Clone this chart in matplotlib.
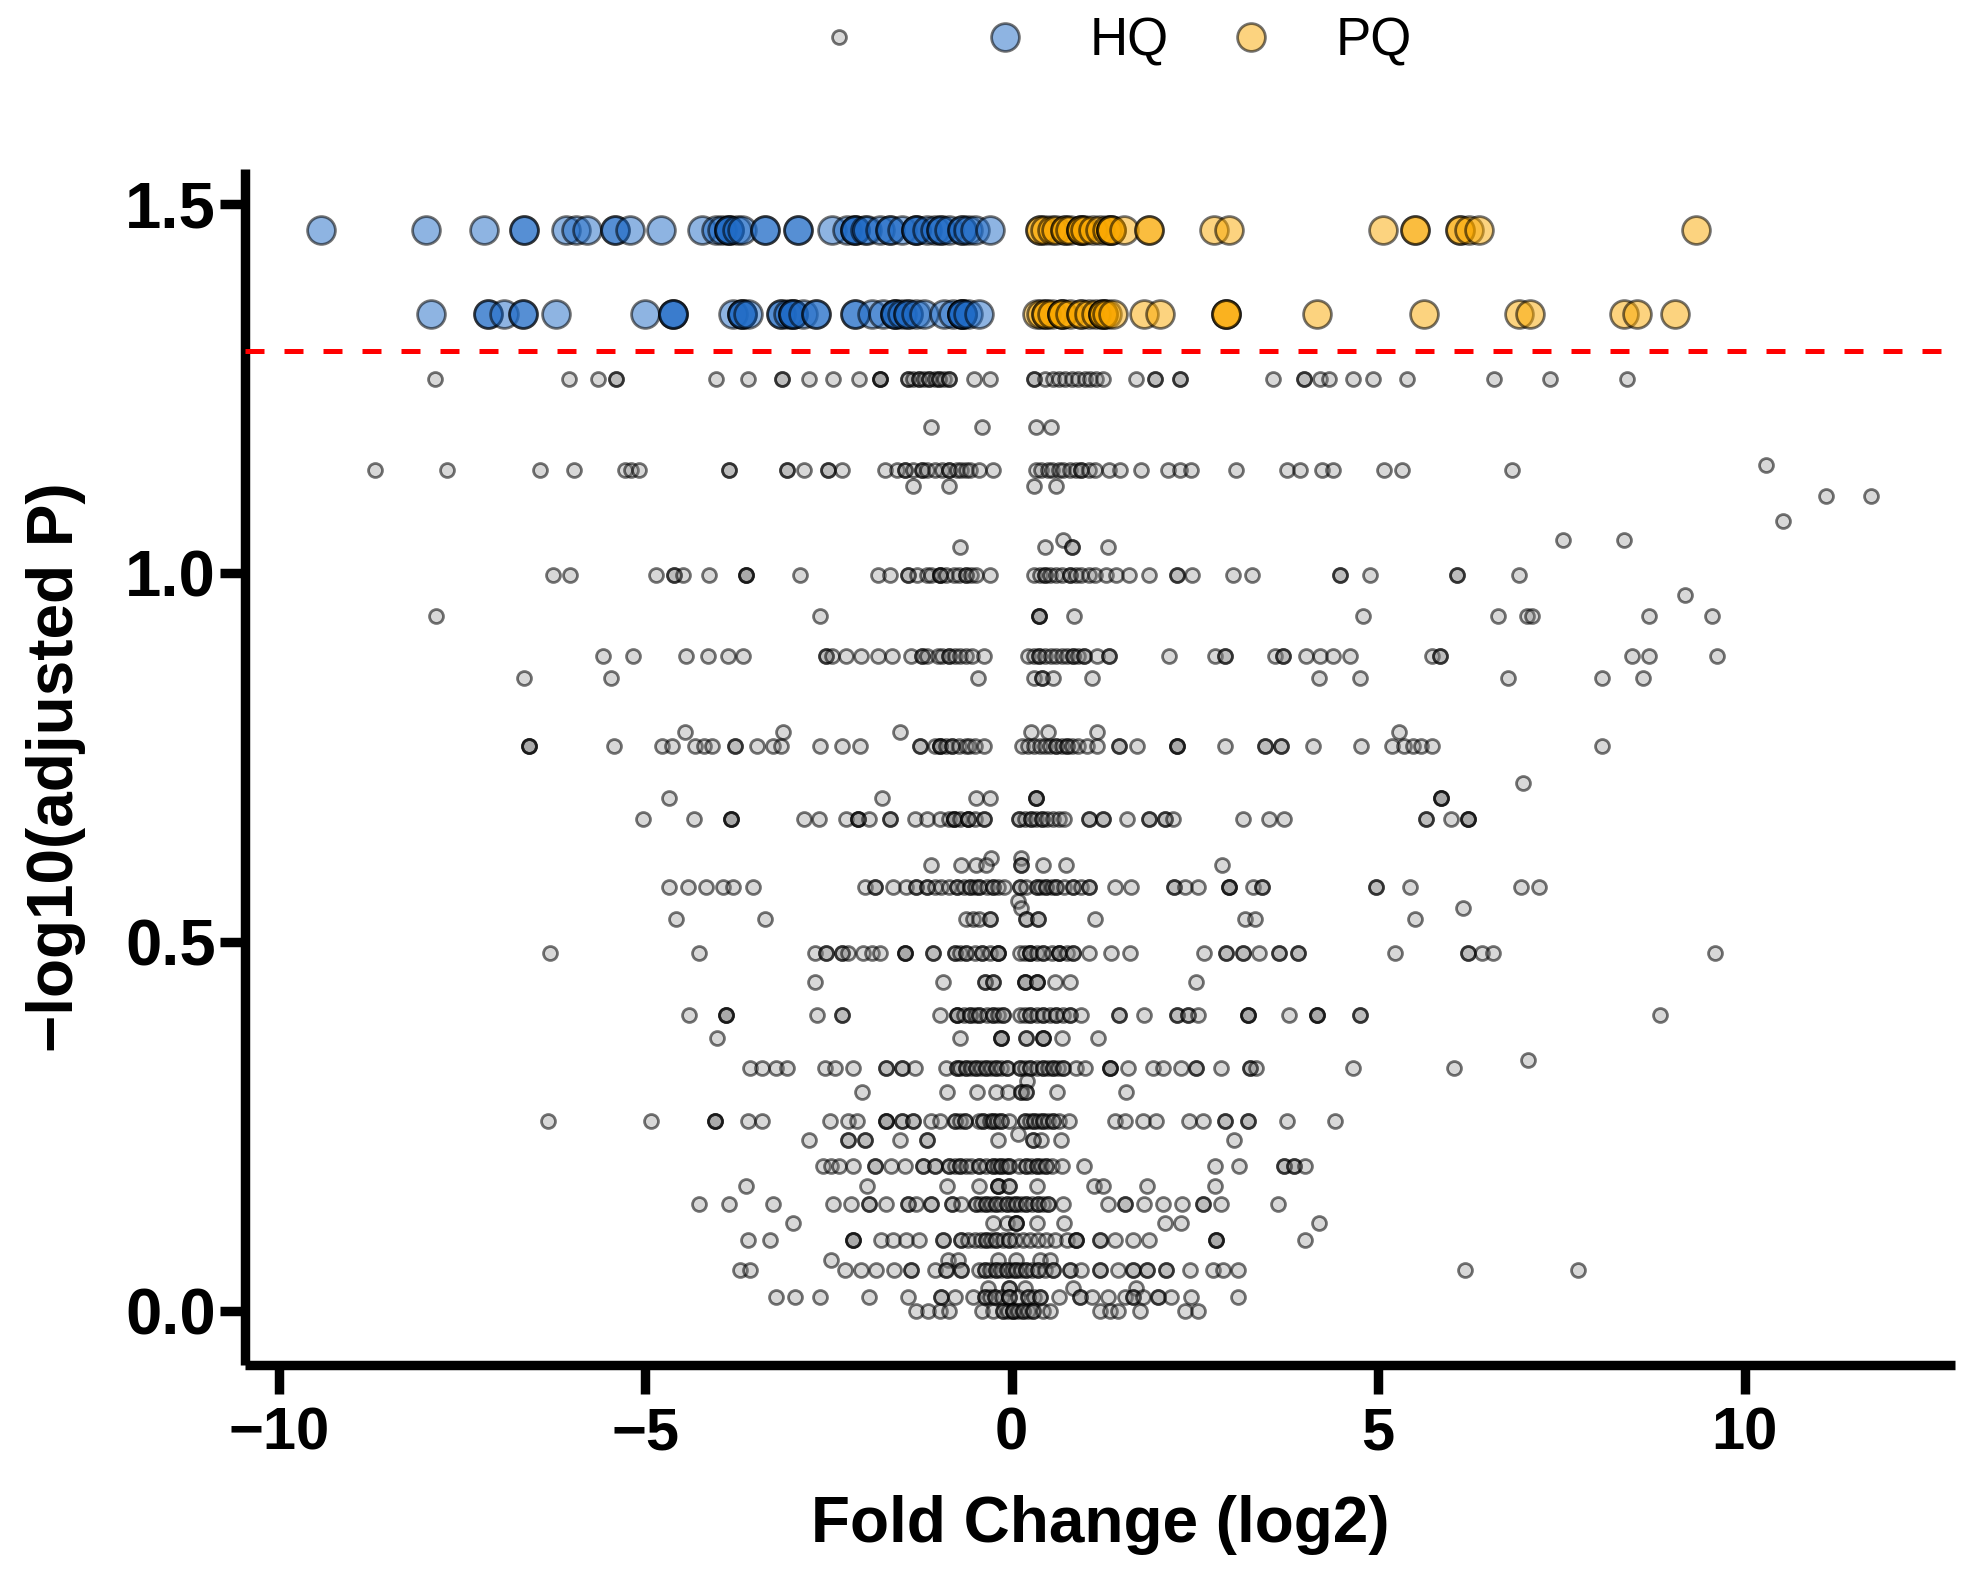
import matplotlib
matplotlib.use("Agg")
import matplotlib.pyplot as plt

plt.rcParams["font.family"] = ["Liberation Sans", "DejaVu Sans"]

# Significant genes: log2 fold change at each adjusted-P level
hq_level_1 = 1.465
hq_x_1 = [-9.42, -7.99, -7.2, -6.65, -6.65, -6.08, -5.94, -5.8, -5.41, -5.41, -5.21, -4.78, -4.23, -4.03,
          -3.95, -3.85, -3.85, -3.85, -3.75, -3.68, -3.36, -3.36, -2.91, -2.91, -2.45, -2.25, -2.14, -2.14, -2.14,
          -2.0, -1.97, -1.8, -1.66, -1.66, -1.5, -1.31, -1.31, -1.31, -1.15, -1.05, -0.96, -0.96, -0.85, -0.68,
          -0.68, -0.6, -0.5, -0.3]
hq_level_2 = 1.351
hq_x_2 = [-7.92, -7.15, -7.15, -6.92, -6.67, -6.67, -6.22, -5.0, -4.62, -4.62, -4.62, -3.8, -3.68, -3.68, -3.68,
          -3.6, -3.15, -3.15, -3.05, -2.98, -2.98, -2.98, -2.85, -2.67, -2.67, -2.14, -2.14, -1.9, -1.75, -1.59,
          -1.59, -1.59, -1.5, -1.42, -1.42, -1.3, -1.2, -0.93, -0.8, -0.68, -0.68, -0.68, -0.68, -0.6, -0.44]
pq_x_1 = [0.39, 0.39, 0.45, 0.55, 0.6, 0.73, 0.73, 0.8, 0.94, 0.94, 0.94, 1.0, 1.11, 1.2, 1.3, 1.36, 1.36, 1.36,
          1.53, 1.88, 1.88, 2.76, 2.97, 5.07, 5.5, 5.5, 6.11, 6.11, 6.24, 6.38, 9.34]
pq_x_2 = [0.34, 0.4, 0.47, 0.47, 0.55, 0.68, 0.68, 0.68, 0.8, 0.94, 0.94, 1.05, 1.15, 1.24, 1.24, 1.24, 1.3, 1.38,
          1.8, 2.02, 2.92, 2.92, 2.92, 4.16, 5.63, 6.92, 7.07, 8.36, 8.53, 9.05]

# Non-significant genes, one list per adjusted-P level
ns_126 = [-7.87, -6.04, -5.64, -5.4, -5.4, -4.04, -3.6, -3.13, -3.13, -2.76, -2.44, -2.08, -1.8, -1.8, -1.8,
          -1.42, -1.42, -1.35, -1.27, -1.27, -1.2, -1.13, -1.13, -1.05, -0.99, -0.99, -0.92, -0.86, -0.86, -0.51,
          -0.3, 0.3, 0.3, 0.45, 0.56, 0.65, 0.73, 0.82, 0.9, 1.0, 1.07, 1.15, 1.24, 1.7, 1.96, 1.96, 2.29, 2.29,
          3.57, 3.99, 3.99, 4.2, 4.33, 4.65, 4.93, 5.39, 6.58, 7.34, 8.4]
ns_120 = [-1.1, -0.4, 0.33, 0.53]
ns_114 = [-8.69, -7.71, -6.44, -5.97, -5.28, -5.19, -5.09, -3.85, -3.85, -3.07, -3.07, -2.84, -2.51, -2.51, -2.31,
          -1.73, -1.57, -1.45, -1.45, -1.35, -1.23, -1.23, -1.15, -1.05, -0.95, -0.85, -0.85, -0.75, -0.69, -0.62,
          -0.57, -0.44, -0.26, 0.33, 0.4, 0.49, 0.55, 0.64, 0.7, 0.79, 0.88, 0.95, 0.95, 1.05, 1.13, 1.33, 1.48,
          1.77, 2.13, 2.29, 2.44, 3.06, 3.75, 3.93, 4.24, 4.39, 5.08, 5.33, 6.82]
ns_112 = [-1.34, -0.86, 0.3, 0.6]
ns_high = [10.29]
ns_high_x = [11.11, 11.72]
ns_107 = [10.53]
ns_1045 = [0.7, 7.52, 8.35]
ns_1035 = [-0.71, 0.45, 0.82, 0.82, 1.32]
ns_100 = [-6.26, -6.03, -4.85, -4.61, -4.61, -4.49, -4.13, -3.63, -3.63, -3.63, -2.89, -1.83, -1.66, -1.42, -1.42,
          -1.29, -1.16, -1.1, -0.98, -0.98, -0.98, -0.9, -0.79, -0.72, -0.63, -0.63, -0.55, -0.48, -0.29, 0.3, 0.38,
          0.45, 0.45, 0.52, 0.6, 0.68, 0.79, 0.79, 0.88, 0.95, 1.05, 1.13, 1.29, 1.43, 1.6, 1.87, 2.25, 2.25, 2.46,
          3.02, 3.28, 4.48, 4.48, 4.89, 6.08, 6.08, 6.92]
ns_097 = [9.18]
ns_094 = [-7.86, -2.62, 0.37, 0.37, 0.37, 0.85, 4.8, 6.64, 7.03, 7.1, 8.7, 9.56]
ns_0887 = [-5.58, -5.16, -4.45, -4.14, -3.87, -3.67, -2.53, -2.53, -2.45, -2.26, -2.05, -1.82, -1.63, -1.38, -1.23,
           -1.23, -1.15, -1.01, -0.95, -0.85, -0.85, -0.78, -0.7, -0.62, -0.54, -0.38, 0.22, 0.3, 0.37, 0.37, 0.45,
           0.53, 0.6, 0.68, 0.75, 0.83, 0.83, 0.9, 0.98, 0.98, 1.17, 1.33, 1.33, 2.15, 2.78, 2.91, 2.91, 3.59, 3.7,
           3.7, 4.01, 4.2, 4.38, 4.62, 5.73, 5.85, 5.85, 8.46, 8.7, 9.62]
ns_0857 = [-6.66, -5.47, -0.46, 0.3, 0.41, 0.41, 0.56, 1.1, 4.19, 4.75, 6.77, 8.05, 8.62]
ns_0785 = [-4.46, -3.12, -1.52, 0.26, 0.49, 1.16, 5.29]
ns_0765 = [-6.58, -6.58, -6.58, -5.42, -4.77, -4.63, -4.32, -4.2, -4.09, -3.77, -3.77, -3.47, -3.26, -3.15, -2.62,
           -2.32, -2.07, -1.25, -1.25, -1.05, -0.98, -0.98, -0.98, -0.9, -0.82, -0.82, -0.72, -0.63, -0.58, -0.5,
           -0.38, 0.14, 0.22, 0.3, 0.38, 0.45, 0.52, 0.6, 0.6, 0.68, 0.75, 0.75, 0.82, 0.91, 1.03, 1.17, 1.46, 1.46,
           1.71, 2.25, 2.25, 2.25, 2.91, 3.45, 3.45, 3.68, 3.68, 4.11, 4.77, 5.19, 5.35, 5.48, 5.59, 5.74, 8.06]
ns_0715 = [6.98]
ns_0695 = [-4.67, -1.77, -0.48, -0.29, 0.33, 0.33, 0.33, 5.86, 5.86, 5.86]
ns_0667 = [-5.03, -4.34, -3.83, -3.83, -3.83, -2.84, -2.63, -2.26, -2.1, -2.1, -2.1, -1.95, -1.66, -1.66, -1.32,
           -1.16, -0.98, -0.85, -0.79, -0.79, -0.79, -0.7, -0.6, -0.6, -0.6, -0.5, -0.38, -0.38, 0.1, 0.1, 0.18,
           0.26, 0.26, 0.33, 0.41, 0.41, 0.48, 0.56, 0.64, 0.72, 1.06, 1.06, 1.25, 1.25, 1.58, 1.87, 1.87, 2.09,
           2.09, 2.2, 3.15, 3.51, 3.72, 5.65, 5.65, 6.0, 6.23, 6.23, 6.23]
ns_0604 = [-1.1, -0.69, -0.48, -0.35, 0.13, 0.13, 0.43, 0.74, 2.87]
ns_0614 = [-0.28, 0.13]
ns_0574 = [-4.67, -4.42, -4.17, -3.94, -3.8, -3.53, -2.0, -1.87, -1.87, -1.62, -1.44, -1.3, -1.3, -1.16, -1.16,
           -1.05, -0.96, -0.85, -0.75, -0.75, -0.65, -0.57, -0.57, -0.5, -0.44, -0.44, -0.33, -0.25, -0.25, -0.18,
           -0.1, 0.11, 0.11, 0.2, 0.34, 0.34, 0.4, 0.47, 0.47, 0.55, 0.61, 0.61, 0.72, 0.84, 0.84, 0.95, 1.06, 1.06,
           1.41, 1.63, 2.22, 2.22, 2.36, 2.54, 2.97, 2.97, 2.97, 3.29, 3.41, 3.41, 4.97, 4.97, 5.44, 6.95, 7.2]
ns_0555 = [0.09]
ns_0546 = [0.13, 6.16]
ns_0531 = [-4.58, -3.37, -0.62, -0.53, -0.44, -0.29, -0.29, 0.2, 0.2, 0.36, 0.36, 1.13, 3.18, 3.32, 5.5]
ns_0485 = [-6.3, -4.26, -2.69, -2.53, -2.53, -2.32, -2.32, -2.23, -2.03, -1.91, -1.8, -1.46, -1.46, -1.46, -1.07,
           -1.07, -0.78, -0.78, -0.7, -0.62, -0.62, -0.5, -0.41, -0.41, -0.3, -0.19, -0.19, -0.19, 0.11, 0.18, 0.25,
           0.25, 0.25, 0.35, 0.43, 0.43, 0.55, 0.65, 0.65, 0.65, 0.75, 0.84, 0.84, 1.06, 1.36, 1.61, 2.62, 2.93,
           2.93, 3.15, 3.15, 3.37, 3.65, 3.65, 3.9, 3.9, 5.23, 6.22, 6.22, 6.41, 6.57, 9.6]
ns_0446 = [-2.69, -0.94, -0.37, -0.37, -0.25, -0.25, 0.18, 0.18, 0.18, 0.34, 0.34, 0.34, 0.59, 0.79, 2.52]
ns_0401 = [-4.4, -3.9, -3.9, -3.9, -2.66, -2.32, -2.32, -0.98, -0.75, -0.75, -0.75, -0.65, -0.57, -0.57, -0.5,
           -0.44, -0.44, -0.33, -0.25, -0.25, -0.18, -0.12, -0.12, 0.11, 0.18, 0.25, 0.25, 0.35, 0.43, 0.43, 0.52,
           0.61, 0.61, 0.7, 0.79, 0.79, 0.95, 1.47, 1.47, 1.81, 2.25, 2.25, 2.41, 2.41, 2.54, 3.22, 3.22, 3.22, 3.79,
           4.16, 4.16, 4.16, 4.75, 4.75, 8.84]
ns_037 = [-4.02, -0.7, -0.14, -0.14, -0.14, 0.2, 0.2, 0.43, 0.43, 0.43, 0.68, 1.18]
ns_034 = [7.04]
ns_0329 = [-3.57, -3.41, -3.21, -3.07, -2.55, -2.41, -2.16, -1.71, -1.71, -1.5, -1.5, -1.32, -0.89, -0.75, -0.75,
           -0.7, -0.62, -0.62, -0.55, -0.48, -0.48, -0.42, -0.35, -0.35, -0.28, -0.21, -0.21, -0.14, -0.07, -0.07,
           0.11, 0.11, 0.18, 0.25, 0.25, 0.34, 0.43, 0.43, 0.5, 0.56, 0.56, 0.63, 0.7, 0.7, 0.88, 1.0, 1.34, 1.34,
           1.34, 1.59, 1.93, 2.06, 2.31, 2.52, 2.52, 2.86, 3.25, 3.25, 3.34, 4.66, 6.04]
ns_0312 = [0.21]
ns_0297 = [-2.04, -0.88, -0.47, -0.21, -0.05, 0.13, 0.13, 0.2, 0.2, 0.62, 1.56]
ns_0258 = [-6.33, -4.92, -4.05, -4.05, -4.05, -3.6, -3.41, -2.48, -2.23, -2.11, -1.71, -1.71, -1.71, -1.5, -1.5,
           -1.35, -1.35, -1.1, -0.98, -0.78, -0.78, -0.7, -0.64, -0.64, -0.45, -0.39, -0.39, -0.3, -0.25, -0.25,
           -0.2, -0.14, -0.14, -0.04, 0.18, 0.18, 0.25, 0.31, 0.31, 0.37, 0.43, 0.43, 0.5, 0.56, 0.56, 0.65, 0.78,
           1.41, 1.54, 1.79, 1.97, 2.42, 2.61, 2.91, 2.91, 3.22, 3.22, 3.75, 4.41]
ns_0232 = [-2.76, -2.23, -2.23, -2.0, -2.0, -1.52, -1.16, -1.16, -0.19, 0.29, 0.29, 0.4, 0.67, 3.04]
ns_024 = [0.09]
ns_0197 = [-2.57, -2.46, -2.35, -2.16, -1.87, -1.87, -1.64, -1.46, -1.21, -1.21, -1.05, -1.05, -0.85, -0.85, -0.78,
           -0.71, -0.71, -0.62, -0.55, -0.44, -0.44, -0.35, -0.25, -0.25, -0.2, -0.14, -0.14, -0.08, -0.04, -0.04,
           0.1, 0.2, 0.2, 0.27, 0.34, 0.34, 0.4, 0.47, 0.47, 0.55, 0.68, 0.99, 2.77, 3.1, 3.72, 3.72, 3.85, 3.85, 4.0]
ns_017 = [-3.62, -1.97, -0.88, -0.45, -0.19, -0.19, -0.19, -0.04, -0.04, 0.34, 1.12, 1.25, 1.84, 2.78]
ns_0145 = [-4.26, -3.85, -3.25, -2.44, -2.19, -1.95, -1.95, -1.71, -1.41, -1.41, -1.3, -1.1, -1.1, -0.82, -0.82,
           -0.69, -0.48, -0.48, -0.42, -0.35, -0.35, -0.28, -0.21, -0.21, -0.14, -0.07, -0.07, 0.0, 0.06, 0.06, 0.13,
           0.2, 0.2, 0.28, 0.36, 0.36, 0.43, 0.5, 0.5, 0.7, 1.31, 1.54, 1.54, 1.81, 2.06, 2.33, 2.61, 2.61, 2.85, 3.63]
ns_0119 = [-2.98, -0.25, -0.07, 0.06, 0.06, 0.06, 0.34, 0.72, 2.09, 2.31, 4.19]
ns_0096 = [-3.6, -3.3, -2.16, -2.16, -2.16, -1.78, -1.62, -1.44, -1.26, -0.94, -0.94, -0.69, -0.69, -0.6, -0.5,
           -0.42, -0.35, -0.35, -0.28, -0.21, -0.21, -0.12, -0.03, -0.03, 0.05, 0.15, 0.25, 0.36, 0.47, 0.59, 0.75,
           0.88, 0.88, 0.88, 1.2, 1.2, 1.41, 1.66, 1.88, 2.79, 2.79, 2.79, 4.0]
ns_0069 = [-2.46, -0.87, -0.73, -0.19, 0.06, 0.38, 0.52]
ns_0056 = [-3.71, -3.57, -2.28, -2.05, -1.85, -1.6, -1.37, -1.37, -1.05, -0.89, -0.89, -0.69, -0.69, -0.45, -0.37,
           -0.37, -0.3, -0.21, -0.21, -0.14, -0.07, -0.07, 0.0, 0.06, 0.06, 0.13, 0.2, 0.2, 0.28, 0.36, 0.36, 0.46,
           0.56, 0.56, 0.79, 0.79, 0.95, 1.2, 1.2, 1.45, 1.66, 1.66, 1.84, 1.84, 2.11, 2.11, 2.43, 2.75, 2.88, 3.09,
           6.18, 7.72]
ns_0031 = [-0.32, -0.03, -0.03, 0.18, 0.84, 1.7]
ns_0019 = [-3.21, -2.96, -2.62, -1.94, -1.41, -0.96, -0.96, -0.78, -0.53, -0.37, -0.37, -0.3, -0.23, -0.23, -0.13,
           -0.03, -0.03, -0.03, 0.08, 0.22, 0.22, 0.3, 0.38, 0.38, 0.65, 0.93, 0.93, 1.09, 1.31, 1.54, 1.66, 1.66,
           1.79, 2.0, 2.0, 2.18, 2.45, 3.09]
ns_000 = [-1.3, -1.14, -0.98, -0.85, -0.41, -0.25, -0.12, -0.12, -0.05, 0.02, 0.02, 0.02, 0.08, 0.15, 0.15, 0.22,
          0.29, 0.29, 0.43, 0.52, 1.2, 1.34, 1.45, 1.75, 2.36, 2.54]

ns_levels = [
    (1.262, ns_126), (1.198, ns_120), (1.139, ns_114), (1.146, ns_high), (1.104, ns_high_x), (1.118, ns_112),
    (1.07, ns_107), (1.045, ns_1045), (1.035, ns_1035), (0.997, ns_100), (0.97, ns_097), (0.942, ns_094),
    (0.887, ns_0887), (0.857, ns_0857), (0.785, ns_0785), (0.765, ns_0765), (0.715, ns_0715), (0.695, ns_0695),
    (0.667, ns_0667), (0.614, ns_0614), (0.604, ns_0604), (0.574, ns_0574), (0.555, ns_0555), (0.546, ns_0546),
    (0.531, ns_0531), (0.485, ns_0485), (0.446, ns_0446), (0.401, ns_0401), (0.37, ns_037), (0.34, ns_034),
    (0.329, ns_0329), (0.312, ns_0312), (0.297, ns_0297), (0.258, ns_0258), (0.24, ns_024), (0.232, ns_0232),
    (0.197, ns_0197), (0.17, ns_017), (0.145, ns_0145), (0.119, ns_0119), (0.096, ns_0096), (0.069, ns_0069),
    (0.056, ns_0056), (0.031, ns_0031), (0.019, ns_0019), (0.0, ns_000),
]

threshold = 1.3
x_ticks = [-10, -5, 0, 5, 10]
y_ticks = [0.0, 0.5, 1.0, 1.5]
y_tick_labels = ["0.0", "0.5", "1.0", "1.5"]

W, H = 1975, 1578
fig = plt.figure(figsize=(W / 100, H / 100), dpi=100, facecolor="white")
ax = fig.add_axes([245 / W, (H - 1365) / H, (1955 - 245) / W, (1365 - 169) / H])

edge = (0, 0, 0, 0.55)
grey_style = dict(s=100, facecolor=(0.5, 0.5, 0.5, 0.3), edgecolor=edge, linewidth=2.0, clip_on=False)
hq_style = dict(s=400, facecolor=(0.12, 0.42, 0.78, 0.5), edgecolor=edge, linewidth=2.0, clip_on=False)
pq_style = dict(s=400, facecolor=(0.98, 0.66, 0.0, 0.5), edgecolor=edge, linewidth=2.0, clip_on=False)

ns_handle = None
for level, xs in ns_levels:
    ns_handle = ax.scatter(xs, [level] * len(xs), zorder=2, **grey_style)
hq_handle = ax.scatter(hq_x_1, [hq_level_1] * len(hq_x_1), zorder=3, **hq_style)
ax.scatter(hq_x_2, [hq_level_2] * len(hq_x_2), zorder=3, **hq_style)
pq_handle = ax.scatter(pq_x_1, [hq_level_1] * len(pq_x_1), zorder=3, **pq_style)
ax.scatter(pq_x_2, [hq_level_2] * len(pq_x_2), zorder=3, **pq_style)

ax.axhline(threshold, color="#ff0000", linewidth=3.6, dashes=(3.8, 4.0), zorder=4)

ax.set_xlim(-10.46, 12.87)
ax.set_ylim(-0.073, 1.547)
ax.set_xticks(x_ticks)
ax.set_xticklabels(["\u221210", "\u22125", "0", "5", "10"])
ax.set_yticks(y_ticks)
ax.set_yticklabels(y_tick_labels)

for side in ("top", "right"):
    ax.spines[side].set_visible(False)
for side in ("left", "bottom"):
    ax.spines[side].set_linewidth(6.8)
    ax.spines[side].set_capstyle("butt")

ax.tick_params(axis="x", length=21, width=6.8, pad=9, labelsize=43)
ax.tick_params(axis="y", length=18, width=6.8, pad=3, labelsize=47)
for label in ax.get_xticklabels() + ax.get_yticklabels():
    label.set_fontweight("bold")

ax.set_xlabel("Fold Change (log2)", fontsize=46, fontweight="bold", labelpad=24)
ax.set_ylabel("\u2212log10(adjusted P)", fontsize=46, fontweight="bold", labelpad=28)

fig.legend(
    [ns_handle, hq_handle, pq_handle], ["", "HQ", "PQ"],
    loc="center", bbox_to_anchor=(1112 / W, 1 - 41 / H), ncol=3, frameon=False, fontsize=38,
    handlelength=1.0, handletextpad=1.1, columnspacing=1.06, borderpad=0, borderaxespad=0,
    scatterpoints=1, scatteryoffsets=[0.5],
)

fig.savefig("out.png", dpi=100)
